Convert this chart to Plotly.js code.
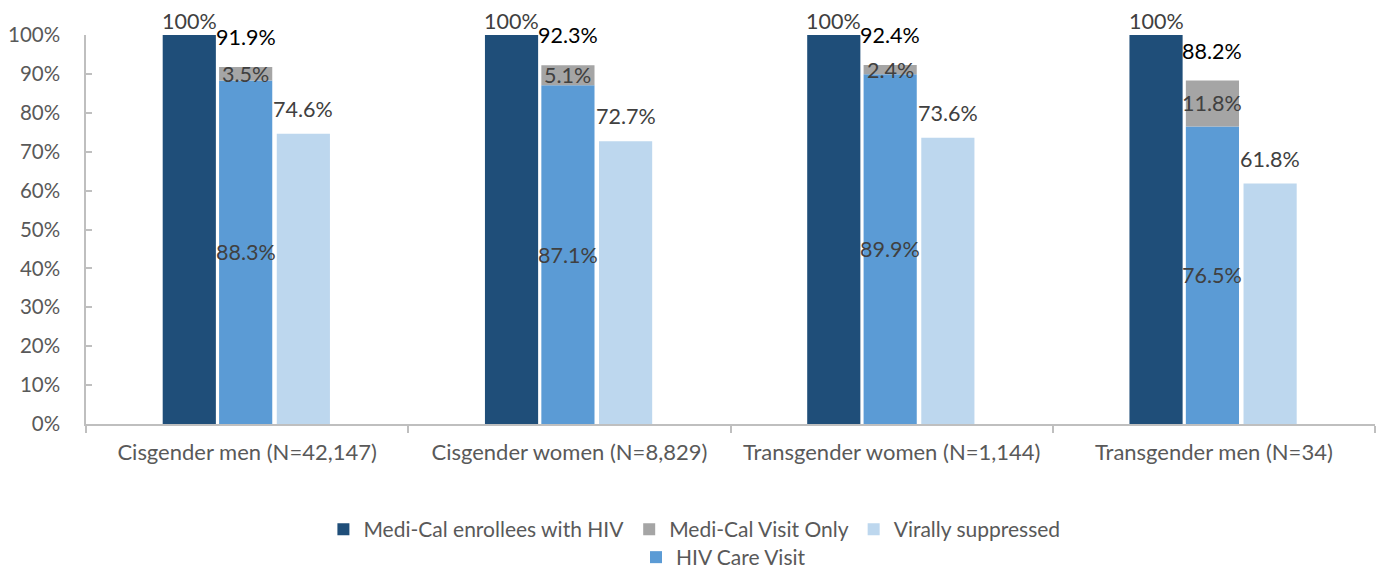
<!DOCTYPE html>
<html>
<head>
<meta charset="utf-8">
<script src="https://cdn.plot.ly/plotly-3.0.1.min.js"></script>
<style>html,body{margin:0;padding:0;background:#fff;}#chart{width:1379px;height:569px;}</style>
</head>
<body>
<div id="chart"></div>
<script>
const categories = ["Cisgender men (N=42,147)", "Cisgender women (N=8,829)", "Transgender women (N=1,144)", "Transgender men (N=34)"];
const enrollees = [100, 100, 100, 100];
const hivCare = [88.3, 87.1, 89.9, 76.5];
const visitOnly = [3.5, 5.1, 2.4, 11.8];
const visitTotal = [91.9, 92.3, 92.4, 88.2];
const suppressed = [74.6, 72.7, 73.6, 61.8];
const yTicks = [0, 10, 20, 30, 40, 50, 60, 70, 80, 90, 100];

const FONT = "Lato, 'Open Sans', sans-serif";
const W = 0.165;
const OFF = [-0.262, -0.087, 0.092];
const labelColor = "#404040";
const pct = v => (Number.isInteger(v) ? v.toFixed(0) : v.toFixed(1)) + "%";

const traces = [
  {type: "bar", name: "Medi-Cal enrollees with HIV", x: categories, y: enrollees,
   width: W, offset: OFF[0], marker: {color: "#1F4E79"}, legend: "legend", hoverinfo: "y"},
  {type: "bar", name: "HIV Care Visit", x: categories, y: hivCare,
   width: W, offset: OFF[1], marker: {color: "#5B9BD5"}, legend: "legend2", hoverinfo: "y"},
  {type: "bar", name: "Medi-Cal Visit Only", x: categories, y: visitOnly, base: hivCare,
   width: W, offset: OFF[1], marker: {color: "#A5A5A5"}, legend: "legend", hoverinfo: "y"},
  {type: "bar", name: "Virally suppressed", x: categories, y: suppressed,
   width: W, offset: OFF[2], marker: {color: "#BDD7EE"}, legend: "legend", hoverinfo: "y"}
];

const ann = [];
const fsz = 21.5;
categories.forEach((c, i) => {
  const cx = k => i + OFF[k] + W / 2;
  ann.push({x: cx(0), y: enrollees[i], text: pct(enrollees[i]), yanchor: "bottom", yshift: -1,
    font: {size: fsz, color: labelColor, family: FONT}});
  ann.push({x: cx(1), y: hivCare[i] + visitOnly[i], text: pct(visitTotal[i]), yanchor: "bottom", yshift: 15,
    font: {size: fsz, color: "#000000", family: FONT}});
  ann.push({x: cx(1), y: hivCare[i] + visitOnly[i] / 2, text: pct(visitOnly[i]), yanchor: "middle",
    font: {size: fsz, color: labelColor, family: FONT}});
  ann.push({x: cx(1), y: hivCare[i] / 2, text: pct(hivCare[i]), yanchor: "middle",
    font: {size: fsz, color: labelColor, family: FONT}});
  ann.push({x: cx(2), y: suppressed[i], text: pct(suppressed[i]), yanchor: "bottom", yshift: 10,
    font: {size: fsz, color: labelColor, family: FONT}});
});
ann.forEach(a => { a.xref = "x"; a.yref = "y"; a.showarrow = false; a.xanchor = "center"; });

const layout = {
  width: 1379, height: 569,
  margin: {l: 86, r: 4, t: 35, b: 145, autoexpand: false},
  paper_bgcolor: "#ffffff", plot_bgcolor: "#ffffff",
  barmode: "overlay",
  font: {family: FONT, color: "#595959"},
  xaxis: {
    type: "category", range: [-0.5, 3.5], showgrid: false, zeroline: false,
    showline: true, linecolor: "#BFBFBF", linewidth: 1.5,
    ticks: "outside", tickson: "boundaries", ticklen: 7, tickcolor: "#BFBFBF", tickwidth: 1.5,
    tickfont: {size: 22, color: "#595959", family: FONT}, ticklabelstandoff: 8
  },
  yaxis: {
    range: [0, 100], tickvals: yTicks, ticktext: yTicks.map(v => v + "%"),
    showgrid: false, zeroline: false, showline: true, linecolor: "#BFBFBF", linewidth: 1.5,
    ticks: "inside", ticklen: 6, tickcolor: "#BFBFBF", tickwidth: 1.5,
    tickfont: {size: 20.5, color: "#595959", family: FONT}, ticklabelstandoff: 20
  },
  legend: {orientation: "h", x: 0.472, xanchor: "center", y: -0.2185, yanchor: "top",
    font: {size: 21, color: "#595959", family: FONT}, itemwidth: 30, bgcolor: "rgba(0,0,0,0)"},
  legend2: {orientation: "h", x: 0.4267, xanchor: "left", y: -0.2905, yanchor: "top",
    font: {size: 21, color: "#595959", family: FONT}, itemwidth: 30, bgcolor: "rgba(0,0,0,0)"},
  annotations: ann,
  showlegend: true
};

Plotly.newPlot("chart", traces, layout, {displayModeBar: false, responsive: false});
</script>
</body>
</html>
